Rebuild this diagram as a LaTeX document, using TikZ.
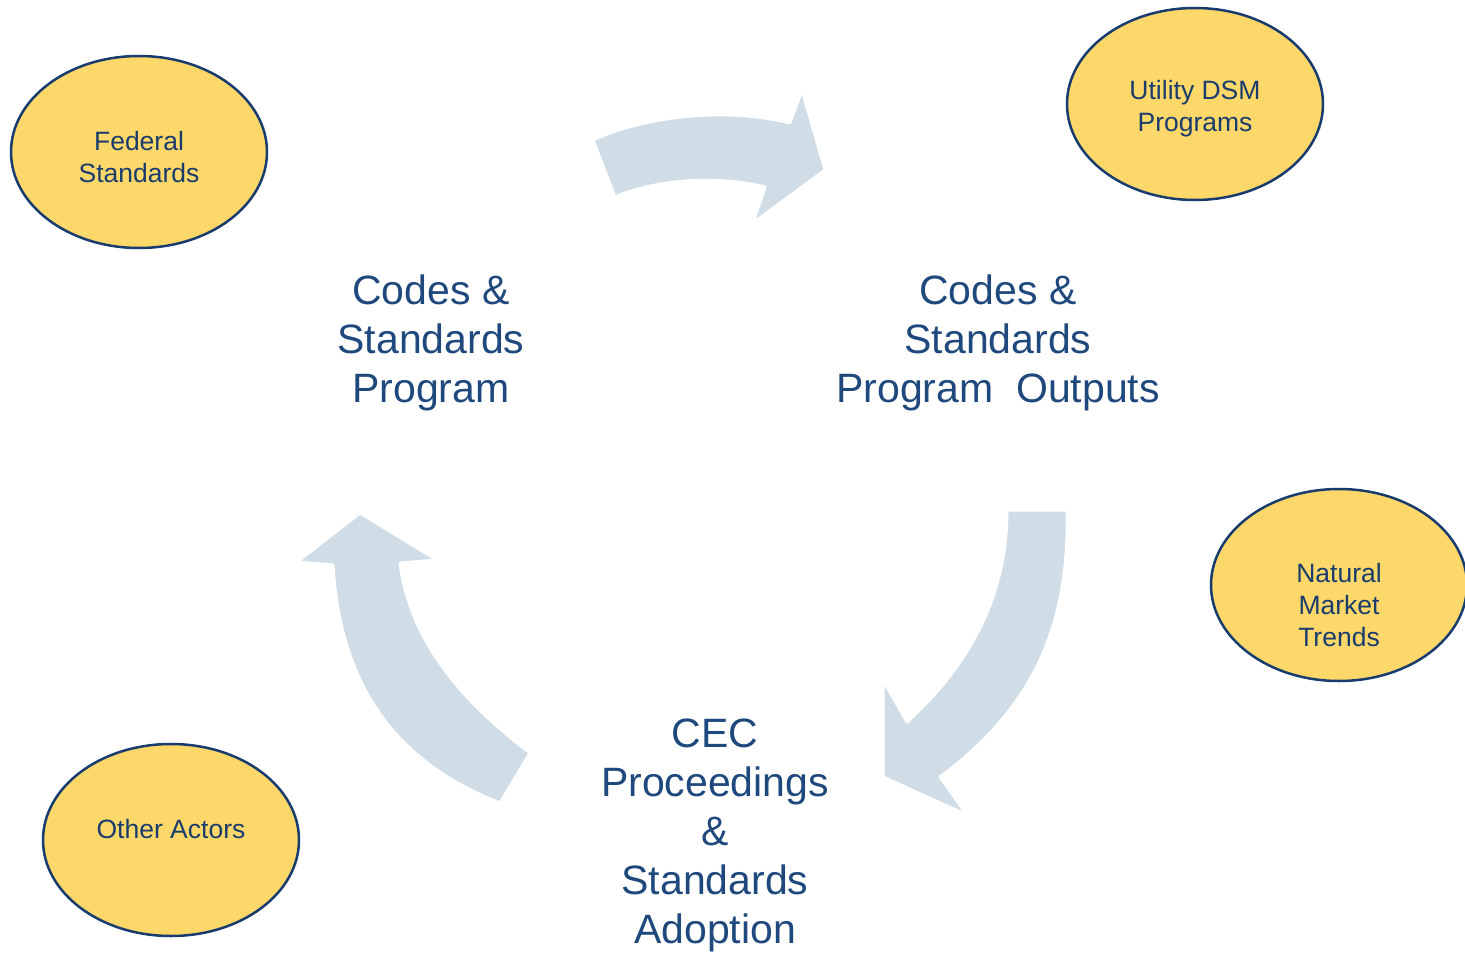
\documentclass[tikz,border=0pt]{standalone}
\usepackage{fontspec}
\setmainfont{Liberation Sans}
\usetikzlibrary{shapes.geometric}
\definecolor{navytxt}{RGB}{31,73,125}
\definecolor{navysmall}{RGB}{26,60,108}
\definecolor{navyline}{RGB}{25,60,110}
\definecolor{bubblefill}{RGB}{252,215,106}
\definecolor{arrowfill}{RGB}{208,221,231}
\tikzset{
  bubble/.style={ellipse, draw=navyline, line width=2.5pt, fill=bubblefill,
    minimum width=256pt, minimum height=192pt, inner sep=0pt},
  bubbletext/.style={text=navysmall, align=center, inner sep=0pt,
    font=\fontsize{26.5}{32}\selectfont},
  stagelabel/.style={text=navytxt, align=center, inner sep=0pt,
    font=\fontsize{41}{49}\selectfont},
  bigarrow/.style={fill=arrowfill, draw=white, line width=3pt, line join=round}
}
\begin{document}
\begin{tikzpicture}[x=1pt,y=-1pt]
\useasboundingbox (0,0) rectangle (1465,955);
% curved arrows
\filldraw[bigarrow] (593,140) .. controls (650,114) and (730,108) .. (790,123)
  -- (802,90) -- (825,170) -- (753,223) -- (765,187)
  .. controls (720,176) and (660,178) .. (615,197) -- cycle;
\filldraw[bigarrow] (1007,510) -- (1067,510)
  .. controls (1070,630) and (1030,710) .. (940,777)
  -- (967,815) -- (883,777) -- (883,680) -- (907,722)
  .. controls (975,660) and (1007,590) .. (1007,510) -- cycle;
\filldraw[bigarrow] (500,803) -- (530,753)
  .. controls (460,700) and (410,640) .. (400,563)
  -- (437,560) -- (360,513) -- (297,562) -- (333,565)
  .. controls (340,680) and (390,760) .. (500,803) -- cycle;
% stage labels
\node[stagelabel] (prog) at (431,343) {Codes \&\\Standards\\Program};
\node[stagelabel] (outp) at (998,343) {Codes \&\\Standards\\Program\ \ Outputs};
\node[stagelabel] (cec) at (715,835) {CEC\\Proceedings\\\&\\Standards\\Adoption};
% bubbles
\node[bubble] (fed) at (139,152) {};
\node[bubbletext] (fedt) at (139,157) {Federal\\Standards};
\node[bubble] (dsm) at (1195,104) {};
\node[bubbletext] (dsmt) at (1195,109) {Utility DSM\\Programs};
\node[bubble] (nmt) at (1339,585) {};
\node[bubbletext] (nmtt) at (1339,605) {Natural\\Market\\Trends};
\node[bubble] (oth) at (171,840) {};
\node[bubbletext] (otht) at (171,829) {Other Actors};
\end{tikzpicture}
\end{document}
